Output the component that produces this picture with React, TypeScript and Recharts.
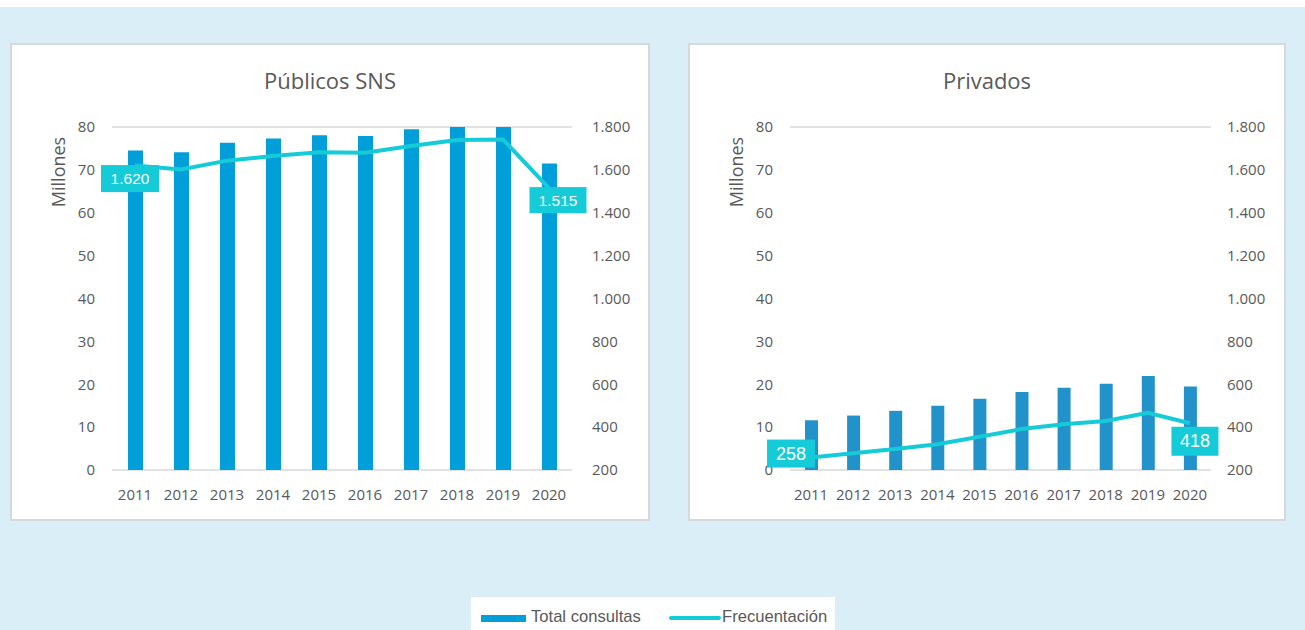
import React from "react";
import { ComposedChart, Bar, Line, XAxis, YAxis, CartesianGrid, LabelList } from "recharts";

// Years on the category axis
const years = ["2011", "2012", "2013", "2014", "2015", "2016", "2017", "2018", "2019", "2020"];

// Públicos SNS: total consultas (millones) and frecuentación
const publicosConsultas = [74.5, 74.1, 76.3, 77.3, 78.1, 77.9, 79.5, 80.6, 80.9, 71.5];
const publicosFrecuentacion = [1620, 1602, 1643, 1665, 1682, 1680, 1711, 1739, 1742, 1515];

// Privados
const privadosConsultas = [11.6, 12.7, 13.8, 15.0, 16.6, 18.2, 19.2, 20.1, 21.9, 19.5];
const privadosFrecuentacion = [258, 278, 298, 320, 355, 391, 413, 429, 467, 418];

const leftTicks = [0, 10, 20, 30, 40, 50, 60, 70, 80];
const rightTicks = [200, 400, 600, 800, 1000, 1200, 1400, 1600, 1800];

const CYAN = "#14cbd7";
const GREY = "#595959";
const FONT = "'Open Sans', 'Noto Sans', sans-serif";

const fmt = (v: number) => String(v).replace(/\B(?=(\d{3})+(?!\d))/g, ".");

type Box = { dx: number; dy: number; w: number; h: number; fs: number };

// draws the cyan value box for the first and last point only
const makeLabel = (boxes: Record<number, Box>) => (props: any) => {
  const { x, y, value, index } = props;
  const b = boxes[index];
  if (!b || x == null || y == null) return null;
  const cx = x + b.dx;
  const cy = y + b.dy;
  return (
    <g>
      <rect x={cx - b.w / 2} y={cy - b.h / 2} width={b.w} height={b.h} fill={CYAN} />
      <text
        x={cx}
        y={cy}
        textAnchor="middle"
        dominantBaseline="central"
        fill="#fff"
        fontSize={b.fs}
        fontFamily="'Liberation Sans', Arial, sans-serif"
      >
        {fmt(value)}
      </text>
    </g>
  );
};

interface PanelProps {
  title: string;
  left: number;
  width: number;
  consultas: number[];
  frecuentacion: number[];
  barColor: string;
  barSize: number;
  rightAxisWidth: number;
  rightTickGap: number;
  boxes: Record<number, Box>;
}

const Panel: React.FC<PanelProps> = (p) => {
  const data = years.map((year, i) => ({
    year,
    consultas: p.consultas[i],
    frecuentacion: p.frecuentacion[i],
  }));
  const tick = { fill: GREY, fontSize: 15, fontFamily: FONT };

  return (
    <div
      style={{
        position: "absolute",
        left: p.left,
        top: 43,
        width: p.width,
        height: 478,
        background: "#fff",
        boxShadow: "inset 0 0 0 2px #d6d9db",
      }}
    >
      <div
        style={{
          position: "absolute",
          left: 0,
          top: 24,
          width: "100%",
          textAlign: "center",
          fontFamily: FONT,
          fontSize: 22,
          lineHeight: "26px",
          color: GREY,
        }}
      >
        {p.title}
      </div>
      <div
        style={{
          position: "absolute",
          left: 48,
          top: 129,
          transform: "translate(-50%, -50%) rotate(-90deg)",
          fontFamily: FONT,
          fontSize: 18,
          color: GREY,
          whiteSpace: "nowrap",
        }}
      >
        Millones
      </div>
      <div style={{ position: "absolute", left: 0, top: 0 }}>
        <ComposedChart
          width={p.width}
          height={478}
          data={data}
          margin={{ top: 84, right: 0, bottom: 0, left: 0 }}
          barCategoryGap="0%"
        >
          <CartesianGrid vertical={false} stroke="#d9d9d9" strokeWidth={1.5} />
          <XAxis
            dataKey="year"
            height={51}
            axisLine={false}
            tickLine={false}
            tickSize={0}
            tickMargin={19}
            tick={tick}
            interval={0}
          />
          <YAxis
            yAxisId="left"
            orientation="left"
            width={102}
            domain={[0, 80]}
            ticks={leftTicks}
            allowDataOverflow
            axisLine={false}
            tickLine={false}
            tickSize={0}
            tickMargin={17}
            tick={tick}
          />
          <YAxis
            yAxisId="right"
            orientation="right"
            width={p.rightAxisWidth}
            domain={[200, 1800]}
            ticks={rightTicks}
            axisLine={false}
            tickLine={false}
            tickSize={0}
            tickMargin={p.rightTickGap}
            tick={tick}
            tickFormatter={fmt}
          />
          <Bar
            yAxisId="left"
            dataKey="consultas"
            name="Total consultas"
            fill={p.barColor}
            barSize={p.barSize}
            isAnimationActive={false}
          />
          <Line
            yAxisId="right"
            dataKey="frecuentacion"
            name="Frecuentación"
            type="linear"
            stroke={CYAN}
            strokeWidth={4}
            dot={false}
            activeDot={false}
            isAnimationActive={false}
          >
            <LabelList dataKey="frecuentacion" content={makeLabel(p.boxes)} />
          </Line>
        </ComposedChart>
      </div>
    </div>
  );
};

const App: React.FC = () => {
  return (
    <div
      style={{
        position: "absolute",
        left: 0,
        top: 0,
        width: 1305,
        height: 630,
        background: "#fff",
        overflow: "hidden",
      }}
    >
      <div
        style={{
          position: "absolute",
          left: 0,
          top: 7,
          width: 1305,
          height: 623,
          background: "#daeef7",
        }}
      />
      <Panel
        title="Públicos SNS"
        left={10}
        width={640}
        consultas={publicosConsultas}
        frecuentacion={publicosFrecuentacion}
        barColor="#009fd9"
        barSize={15}
        rightAxisWidth={78}
        rightTickGap={20}
        boxes={{
          0: { dx: -5, dy: 13, w: 58, h: 27, fs: 15.5 },
          9: { dx: 9, dy: 12, w: 57, h: 26, fs: 15.5 },
        }}
      />
      <Panel
        title="Privados"
        left={688}
        width={598}
        consultas={privadosConsultas}
        frecuentacion={privadosFrecuentacion}
        barColor="#2292cb"
        barSize={13}
        rightAxisWidth={75}
        rightTickGap={16}
        boxes={{
          0: { dx: -20, dy: -4, w: 48, h: 28, fs: 18 },
          9: { dx: 5, dy: 18, w: 47, h: 29, fs: 18 },
        }}
      />
      {/* shared legend */}
      <div
        style={{
          position: "absolute",
          left: 471,
          top: 597,
          width: 364,
          height: 33,
          background: "#fff",
          fontFamily: "'Liberation Sans', Arial, sans-serif",
          fontSize: 16.6,
          color: GREY,
        }}
      >
        <div style={{ position: "absolute", left: 10, top: 18, width: 45, height: 7, background: "#009fd9" }} />
        <div style={{ position: "absolute", left: 60, top: 11, lineHeight: "18px" }}>Total consultas</div>
        <div
          style={{
            position: "absolute",
            left: 198,
            top: 19,
            width: 52,
            height: 4,
            borderRadius: 2,
            background: CYAN,
          }}
        />
        <div style={{ position: "absolute", left: 251, top: 11, lineHeight: "18px" }}>Frecuentación</div>
      </div>
    </div>
  );
};

export default App;
